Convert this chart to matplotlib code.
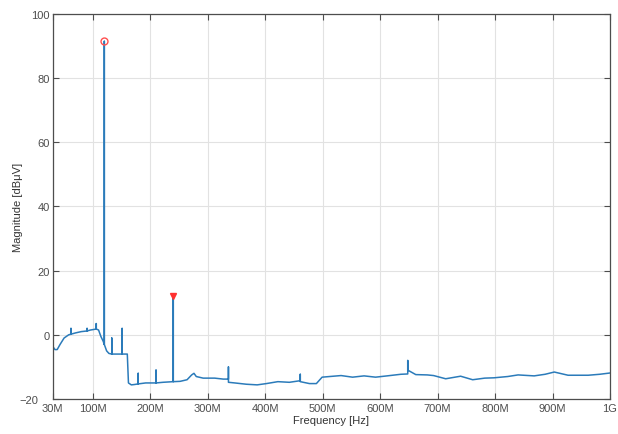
import numpy as np
import matplotlib
matplotlib.use("Agg")
import matplotlib.pyplot as plt
import matplotlib.transforms as mtransforms

plt.rcParams['font.family'] = ['Liberation Sans', 'DejaVu Sans']

# spectrum trace, frequency in MHz, level in dBuV (spikes are repeated freqs)
freq = [30, 34, 38, 43, 50, 58,
        62, 62, 62, 70, 80,
        90, 90, 90, 96,
        106, 106, 106, 110, 114, 118,
        120, 120, 120, 124, 128,
        133, 133, 133, 142,
        151, 151, 151, 160, 162, 167, 172,
        179, 179, 179, 192,
        210, 210, 210, 222,
        240, 240, 240, 252, 264, 272, 276, 280, 292, 312, 327,
        336, 336, 336, 347, 367, 386, 402, 422, 442,
        461, 461, 461, 477, 489, 499, 512, 532, 552, 572, 592, 612, 636,
        648, 648, 648, 662, 682, 693, 714, 740, 761, 782, 798, 822, 840,
        868, 887, 903, 927, 962, 982, 1000]
level = [-3.5, -4.6, -4.6, -3.0, -1.0, 0.0,
         0.2, 2.0, 0.2, 0.6, 1.0,
         1.2, 2.0, 1.2, 1.5,
         1.8, 3.5, 1.8, 1.5, -0.5, -2.0,
         -3.0, 91.5, -3.0, -5.0, -5.8,
         -6.0, -1.0, -6.0, -6.0,
         -6.0, 2.0, -6.0, -6.0, -15.0, -15.6, -15.5,
         -15.3, -12.0, -15.3, -15.0,
         -15.0, -11.0, -15.0, -14.8,
         -14.6, 12.0, -14.6, -14.5, -14.0, -12.5, -12.0, -13.0, -13.5, -13.5, -13.8,
         -13.8, -10.0, -14.8, -15.0, -15.4, -15.6, -15.2, -14.6, -14.8,
         -14.3, -12.3, -14.6, -15.2, -15.2, -13.2, -13.0, -12.7, -13.2, -12.8, -13.2, -12.8, -12.3,
         -12.2, -8.0, -11.0, -12.4, -12.5, -12.7, -13.7, -12.9, -14.0, -13.5, -13.4, -13.0, -12.5,
         -12.8, -12.3, -11.6, -12.6, -12.6, -12.3, -11.9]

peak1 = (120, 91.5)
peak2 = (240, 12.0)

xticks = [30, 100, 200, 300, 400, 500, 600, 700, 800, 900, 1000]
xlabels = ['30M', '100M', '200M', '300M', '400M', '500M', '600M', '700M', '800M', '900M', '1G']
yticks = [-20, 0, 20, 40, 60, 80, 100]

fig = plt.figure(figsize=(6.18, 4.35), dpi=100)
ax = fig.add_axes([0.0851, 0.0805, 0.902, 0.885])

ax.plot(freq, level, color='#2b7bba', lw=1.1)
ax.plot(*peak1, 'o', mfc='none', mec='#ff5050', ms=5, mew=1)
ax.plot(*peak2, 'v', color='#ff3030', ms=5)

ax.set_xlim(30, 1000)
ax.set_ylim(-20, 100)
ax.set_xticks(xticks)
ax.set_xticklabels(xlabels)
ax.set_yticks(yticks)
ax.grid(True, color='#e2e2e2', lw=0.8)
ax.set_axisbelow(True)
ax.tick_params(direction='in', top=True, right=True, length=4, labelsize=8,
               colors='#4d4d4d')
ax.tick_params(axis='x', pad=3)
ax.tick_params(axis='y', pad=2)
for s in ax.spines.values():
    s.set_color('#4d4d4d')
    s.set_linewidth(0.9)

# nudge the bottom y label left so it clears the "30M" label
lab = ax.get_yticklabels()[0]
lab.set_transform(lab.get_transform() +
                  mtransforms.ScaledTranslation(-8 / 72, 0, fig.dpi_scale_trans))

ax.set_xlabel('Frequency [Hz]', fontsize=8, color='#333333', labelpad=1)
ax.set_ylabel('Magnitude [dBμV]', fontsize=8, color='#333333')
ax.yaxis.set_label_coords(-0.053, 0.5)

fig.savefig('out.png', dpi=100)
